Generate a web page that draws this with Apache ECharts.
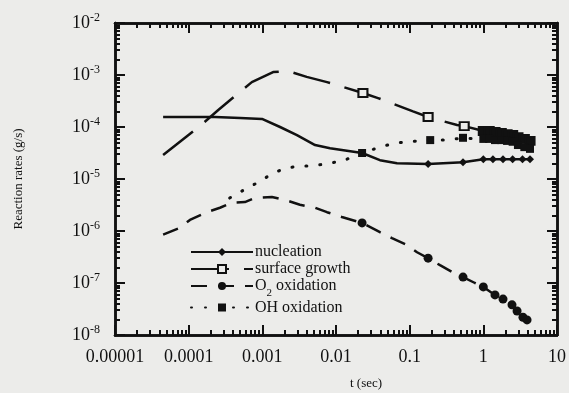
<!DOCTYPE html>
<html>
<head>
<meta charset="utf-8">
<script src="https://cdn.jsdelivr.net/npm/echarts@6/dist/echarts.min.js"></script>
<style>
    html, body { margin: 0; padding: 0; background: #ececea; }
    #chart { width: 569px; height: 393px; }
</style>
</head>
<body>
<div id="chart"></div>
<script>
// axis ticks
const xTicks = [1e-5, 1e-4, 1e-3, 1e-2, 1e-1, 1, 10];
const xTickLabels = ['0.00001', '0.0001', '0.001', '0.01', '0.1', '1', '10'];
const yTicks = [1e-8, 1e-7, 1e-6, 1e-5, 1e-4, 1e-3, 1e-2];
const yTickLabels = ['-8', '-7', '-6', '-5', '-4', '-3', '-2'];

// nucleation
const nucT = [4.5e-5, 1.04e-4, 2.28e-4, 5.0e-4, 9.9e-4, 1.74e-3, 2.95e-3, 5.2e-3, 8.3e-3, 0.0226, 0.0395, 0.0673, 0.178, 0.53, 1.0, 1.35, 1.85, 2.5, 3.4, 4.3];
const nucRate = [1.56e-4, 1.56e-4, 1.56e-4, 1.49e-4, 1.43e-4, 1.0e-4, 7.0e-5, 4.5e-5, 3.9e-5, 3.16e-5, 2.3e-5, 2.0e-5, 1.95e-5, 2.1e-5, 2.4e-5, 2.4e-5, 2.4e-5, 2.4e-5, 2.4e-5, 2.4e-5];
const nucMark = [0, 0, 0, 0, 0, 0, 0, 0, 0, 1, 0, 0, 1, 1, 1, 1, 1, 1, 1, 1];

// surface growth (2 = marker drawn solid where the squares pile up)
const sgT = [4.5e-5, 1.47e-4, 2.5e-4, 7.2e-4, 1.4e-3, 2.23e-3, 4.0e-3, 7.55e-3, 0.0232, 0.0372, 0.111, 0.178, 0.44, 0.55, 1.0, 1.2, 1.44, 1.75, 2.1, 2.5, 2.95, 3.6, 4.3];
const sgRate = [2.9e-5, 1.09e-4, 2.1e-4, 7.3e-4, 1.14e-3, 1.19e-3, 9.2e-4, 7.3e-4, 4.5e-4, 3.6e-4, 2.0e-4, 1.56e-4, 1.09e-4, 1.04e-4, 8.4e-5, 8.4e-5, 8.0e-5, 7.7e-5, 7.3e-5, 7.0e-5, 6.4e-5, 5.9e-5, 5.4e-5];
const sgMark = [0, 0, 0, 0, 0, 0, 0, 0, 1, 0, 0, 1, 0, 1, 2, 2, 2, 2, 2, 2, 2, 2, 2];

// O2 oxidation
const o2T = [4.5e-5, 7.6e-5, 1.04e-4, 1.77e-4, 2.66e-4, 3.87e-4, 5.8e-4, 7.9e-4, 1.35e-3, 2.04e-3, 3.24e-3, 5.2e-3, 7.55e-3, 0.012, 0.0226, 0.0395, 0.0575, 0.092, 0.126, 0.178, 0.258, 0.387, 0.53, 0.77, 1.0, 1.44, 1.85, 2.45, 2.87, 3.45, 3.92];
const o2Rate = [8.5e-7, 1.15e-6, 1.63e-6, 2.3e-6, 2.8e-6, 3.5e-6, 3.6e-6, 4.3e-6, 4.5e-6, 3.95e-6, 3.2e-6, 2.8e-6, 2.3e-6, 1.86e-6, 1.43e-6, 9.5e-7, 7.3e-7, 5.4e-7, 3.9e-7, 3.0e-7, 2.2e-7, 1.6e-7, 1.3e-7, 1.0e-7, 8.4e-8, 5.9e-8, 4.9e-8, 3.8e-8, 2.9e-8, 2.2e-8, 1.95e-8];
const o2Mark = [0, 0, 0, 0, 0, 0, 0, 0, 0, 0, 0, 0, 0, 0, 1, 0, 0, 0, 0, 1, 0, 0, 1, 0, 1, 1, 1, 1, 1, 1, 1];

// OH oxidation
const ohT = [3.6e-4, 6.0e-4, 9.0e-4, 1.4e-3, 2.1e-3, 3.24e-3, 4.9e-3, 7.8e-3, 0.012, 0.0226, 0.0395, 0.063, 0.094, 0.19, 0.33, 0.53, 0.77, 1.0, 1.2, 1.44, 1.75, 2.1, 2.5, 2.95, 3.6, 4.3];
const ohRate = [4.3e-6, 6.5e-6, 8.8e-6, 1.3e-5, 1.62e-5, 1.78e-5, 1.78e-5, 2.0e-5, 2.2e-5, 3.16e-5, 4.1e-5, 4.9e-5, 5.2e-5, 5.6e-5, 5.6e-5, 6.2e-5, 5.9e-5, 5.9e-5, 5.9e-5, 5.6e-5, 5.6e-5, 5.4e-5, 5.2e-5, 4.5e-5, 4.1e-5, 3.8e-5];
const ohMark = [0, 0, 0, 0, 0, 0, 0, 0, 0, 1, 0, 0, 0, 1, 0, 1, 0, 1, 1, 1, 1, 1, 1, 1, 1, 1];

const ink = '#111';
const bg = '#ececea';
const serif = '"Liberation Serif", "DejaVu Serif", serif';

// 2..9 x each decade, for the short ticks
function minorTicks(major) {
    let out = [];
    for (let i = 0; i < major.length - 1; i++) {
        for (let m = 2; m <= 9; m++) {
            out.push(Number((m * major[i]).toPrecision(3)));
        }
    }
    return out;
}

function points(t, rate, mark) {
    return t.map((v, i) => {
        let item = { value: [v, rate[i]] };
        if (!mark[i]) item.symbol = 'none';
        if (mark[i] === 2) item.itemStyle = { color: ink };
        return item;
    });
}

function axis(dim, pos, ticks, len, withLabel) {
    let isX = dim === 'x';
    let a = {
        type: 'log',
        logBase: 10,
        position: pos,
        min: isX ? 1e-5 : 1e-8,
        max: isX ? 10 : 1e-2,
        splitLine: { show: false },
        axisLine: { show: true, lineStyle: { color: ink, width: 2.5 } },
        axisTick: { show: true, inside: true, length: len, customValues: ticks, lineStyle: { color: ink, width: 2 } },
        axisLabel: { show: false }
    };
    if (withLabel) {
        a.axisLabel = {
            show: true,
            customValues: ticks,
            color: ink,
            fontFamily: serif,
            fontSize: 18,
            margin: isX ? 13 : 15,
            formatter: (v) => {
                let i = Math.round(Math.log10(v)) - Math.round(Math.log10(ticks[0]));
                return isX ? xTickLabels[i] : '10{sup|' + yTickLabels[i] + '}';
            },
            rich: { sup: { fontSize: 12, fontFamily: serif, color: ink, padding: [0, 0, 10, 0] } }
        };
    }
    return a;
}

const chart = echarts.init(document.getElementById('chart'));

const xMinor = minorTicks(xTicks);
const yMinor = minorTicks(yTicks);

let yMain = axis('y', 'left', yTicks, 10, true);
yMain.name = 'Reaction rates (g/s)';
yMain.nameLocation = 'middle';
yMain.nameGap = 90;
yMain.nameTextStyle = { fontFamily: serif, fontSize: 13, color: ink };

chart.setOption({
    animation: false,
    backgroundColor: bg,
    title: {
        text: 't (sec)',
        left: 350,
        top: 377,
        padding: 0,
        textStyle: { fontFamily: serif, fontSize: 13, fontWeight: 'normal', color: ink }
    },
    grid: { left: 115, right: 12, top: 23, bottom: 58, containLabel: false },
    legend: {
        orient: 'vertical',
        left: 190,
        top: 244,
        padding: 0,
        itemWidth: 62,
        itemHeight: 10,
        itemGap: 1,
        textStyle: {
            fontFamily: serif,
            fontSize: 16,
            color: ink,
            padding: [0, 0, 0, -3],
            rich: { sub: { fontFamily: serif, fontSize: 11, color: ink, padding: [14, 0, 0, 0] } }
        },
        formatter: (name) => name === 'O2 oxidation' ? 'O{sub|2} oxidation' : name,
        data: ['nucleation', 'surface growth', 'O2 oxidation', 'OH oxidation']
    },
    xAxis: [
        axis('x', 'bottom', xTicks, 10, true),
        axis('x', 'bottom', xMinor, 5, false),
        axis('x', 'top', xTicks, 10, false),
        axis('x', 'top', xMinor, 5, false)
    ],
    yAxis: [
        yMain,
        axis('y', 'left', yMinor, 5, false),
        axis('y', 'right', yTicks, 10, false),
        axis('y', 'right', yMinor, 5, false)
    ],
    series: [
        {
            name: 'nucleation',
            type: 'line',
            data: points(nucT, nucRate, nucMark),
            symbol: 'diamond',
            symbolSize: 8,
            itemStyle: { color: ink },
            lineStyle: { color: ink, width: 2.5 },
            z: 3
        },
        {
            name: 'surface growth',
            type: 'line',
            data: points(sgT, sgRate, sgMark),
            symbol: 'rect',
            symbolSize: [9, 8],
            itemStyle: { color: bg, borderColor: ink, borderWidth: 2 },
            lineStyle: { color: ink, width: 2.5, type: [38, 15] },
            z: 3
        },
        {
            name: 'O2 oxidation',
            type: 'line',
            data: points(o2T, o2Rate, o2Mark),
            symbol: 'circle',
            symbolSize: 9,
            itemStyle: { color: ink },
            lineStyle: { color: ink, width: 2.5, type: [16, 11] },
            z: 3
        },
        {
            name: 'OH oxidation',
            type: 'line',
            data: points(ohT, ohRate, ohMark),
            symbol: 'rect',
            symbolSize: 8,
            itemStyle: { color: ink },
            lineStyle: { color: ink, width: 3, type: [1, 13], cap: 'round' },
            z: 4
        }
    ]
});
</script>
</body>
</html>
